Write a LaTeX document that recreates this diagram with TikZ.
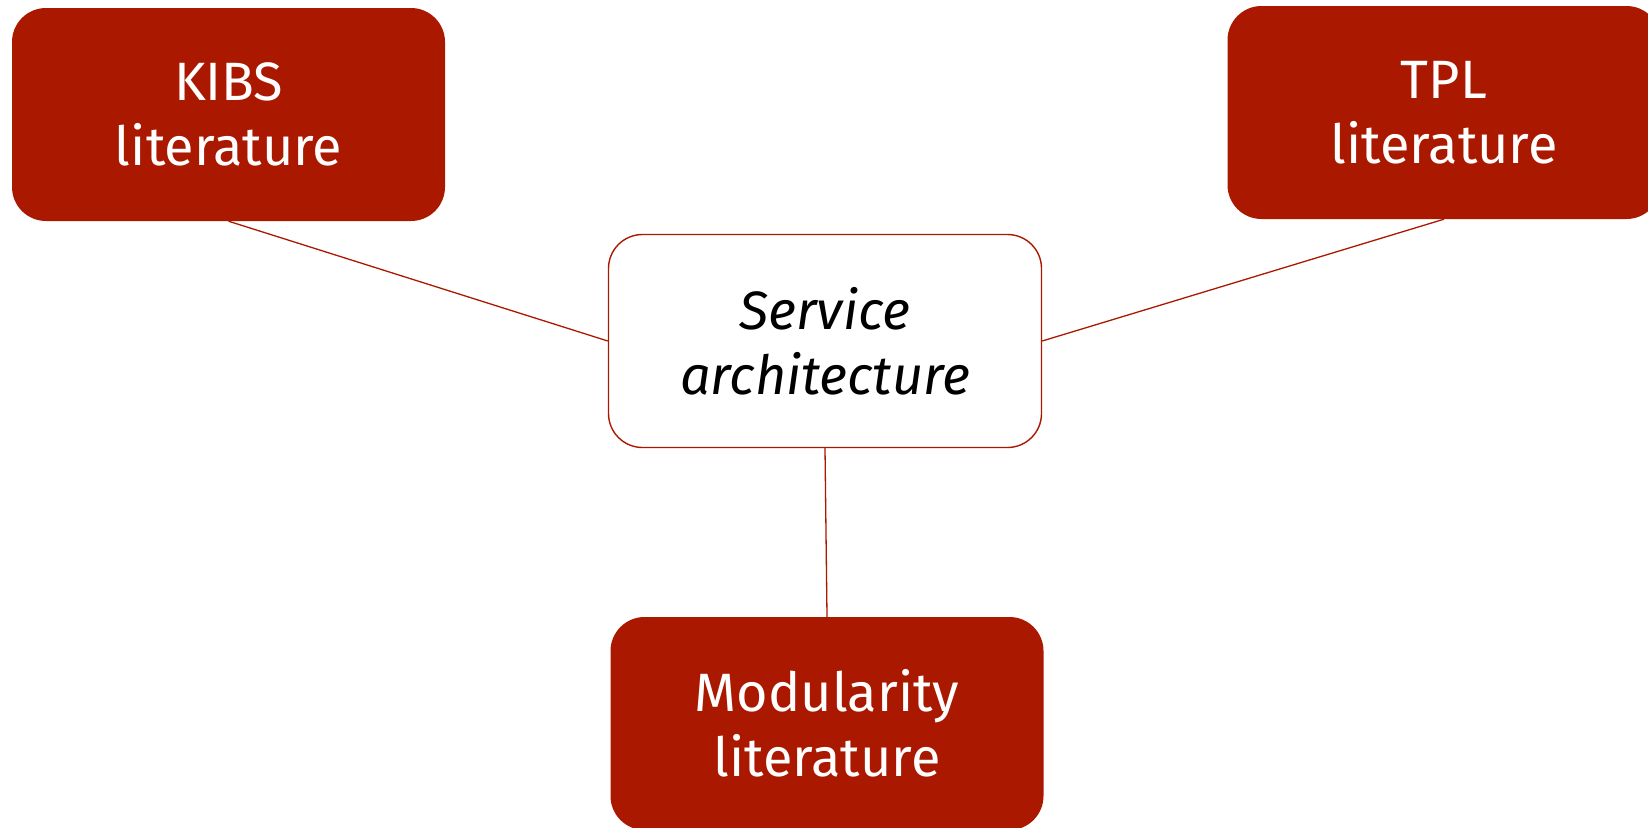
\documentclass[tikz,border=0pt]{standalone}
\usepackage{fontspec}
\setmainfont{Fira Sans}
\definecolor{brick}{HTML}{AB1800}
\begin{document}
\begin{tikzpicture}[x=1pt,y=-1pt,
  litbox/.style={rectangle, rounded corners=34pt, fill=brick, draw=none,
    minimum width=433pt, minimum height=213pt, inner sep=0pt,
    align=center, text=white, font=\fontsize{54}{65}\selectfont},
  corebox/.style={rectangle, rounded corners=34pt, fill=white, draw=brick, line width=1.4pt,
    minimum width=433pt, minimum height=213pt, inner sep=0pt,
    align=center, text=black, font=\fontsize{54}{65}\selectfont\itshape},
  link/.style={draw=brick, line width=1.3pt}]
\useasboundingbox (0,0) rectangle (1648,827);
\node[litbox] (kibs) at (228.5,114.5) {KIBS\\literature};
\node[litbox] (tpl) at (1444,112.5) {TPL\\literature};
\node[corebox] (svc) at (825,341) {Service\\architecture};
\node[litbox] (mod) at (827,723.5) {Modularity\\literature};
\draw[link] (kibs.south) -- (svc.west);
\draw[link] (tpl.south) -- (svc.east);
\draw[link] (svc.south) -- (mod.north);
\end{tikzpicture}
\end{document}
